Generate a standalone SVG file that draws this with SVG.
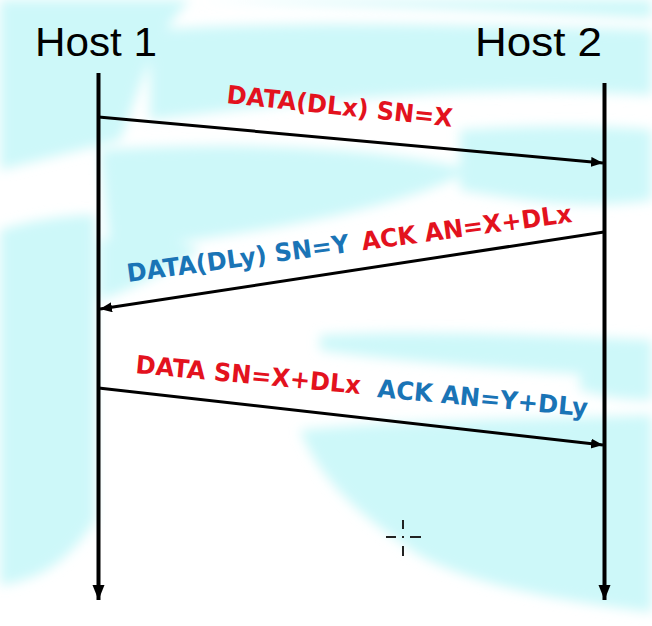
<svg xmlns="http://www.w3.org/2000/svg" width="652" height="626" viewBox="0 0 652 626">
  <defs>
    <style>
      .host { font-family: "Liberation Sans", Arial, sans-serif; font-size: 40px; fill: #000; }
      .lbl { font-family: "DejaVu Sans", Verdana, sans-serif; font-weight: bold; font-size: 25px; }
      .red { fill: #e3121e; }
      .blue { fill: #1a74b6; }
      .life { stroke: #000; stroke-width: 4; fill: none; }
      .msg { stroke: #000; stroke-width: 3; fill: none; }
      .bg { fill: #cdf8f9; }
      .cur { stroke: #222; stroke-width: 2; }
    </style>
    <filter id="soft" x="-10%" y="-10%" width="120%" height="120%">
      <feGaussianBlur stdDeviation="6"/>
    </filter>
    <marker id="ah" markerUnits="userSpaceOnUse" markerWidth="13" markerHeight="11" refX="12" refY="5" orient="auto">
      <path d="M0,0 L12,5 L0,10 Z" fill="#000"/>
    </marker>
    <marker id="ahv" markerUnits="userSpaceOnUse" markerWidth="16" markerHeight="14" refX="15" refY="6" orient="auto">
      <path d="M0,0 L15,6 L0,12 Z" fill="#000"/>
    </marker>
  </defs>

  <!-- background -->
  <rect width="652" height="626" fill="#ffffff"/>
  <g id="background" filter="url(#soft)">
    <path class="bg" d="M0,0 H190 C150,40 140,90 120,140 C80,150 40,160 0,170 Z"/>
    <path class="bg" d="M150,30 C300,20 480,25 652,30 V95 C500,85 350,95 150,120 Z"/>
    <path class="bg" d="M0,230 C30,220 70,215 95,215 V520 C70,560 40,580 0,585 Z"/>
    <path class="bg" d="M100,150 C250,140 400,150 470,170 C420,200 300,230 110,250 Z"/>
    <path class="bg" d="M460,130 C540,125 600,125 652,130 V200 C580,210 520,200 460,190 Z"/>
    <path class="bg" d="M100,240 C140,235 180,240 200,250 C170,270 130,290 100,300 Z"/>
    <path class="bg" d="M320,335 C420,330 540,335 652,340 V380 C540,370 420,365 320,350 Z"/>
    <path class="bg" d="M580,340 C610,340 640,340 652,345 V400 C620,400 600,395 580,390 Z"/>
    <path class="bg" d="M300,430 C400,420 520,420 652,415 V612 C540,600 440,575 405,545 C360,515 320,480 300,430 Z"/>
    <path class="bg" d="M0,0 H652 V18 C500,10 350,5 200,0 Z"/>
  </g>

  <!-- nodes -->
  <g id="host1">
    <text class="host" x="35" y="56" textLength="122" lengthAdjust="spacingAndGlyphs">Host 1</text>
  </g>
  <g id="host2">
    <text class="host" x="475" y="56" textLength="127" lengthAdjust="spacingAndGlyphs">Host 2</text>
  </g>

  <!-- connectors -->
  <g id="connectors">
    <line class="life" x1="98.5" y1="73" x2="98.5" y2="600" marker-end="url(#ahv)"/>
    <line class="life" x1="604.5" y1="83" x2="604.5" y2="600" marker-end="url(#ahv)"/>
    <line class="msg" x1="98.5" y1="117" x2="603" y2="163" marker-end="url(#ah)"/>
    <line class="msg" x1="604" y1="232" x2="100" y2="309" marker-end="url(#ah)"/>
    <line class="msg" x1="98.5" y1="388" x2="603" y2="445" marker-end="url(#ah)"/>
  </g>

  <!-- labels -->
  <g id="label1" transform="translate(226,103) rotate(6)">
    <text class="lbl red" x="0" y="0" textLength="227" lengthAdjust="spacingAndGlyphs">DATA(DLx) SN=X</text>
  </g>
  <g id="label2" transform="translate(128,282) rotate(-7.7)">
    <text class="lbl blue" x="0" y="0" textLength="224" lengthAdjust="spacingAndGlyphs">DATA(DLy) SN=Y</text>
    <text class="lbl red" x="237" y="0" textLength="212" lengthAdjust="spacingAndGlyphs">ACK AN=X+DLx</text>
  </g>
  <g id="label3" transform="translate(135,373) rotate(5.3)">
    <text class="lbl red" x="0" y="0" textLength="226" lengthAdjust="spacingAndGlyphs">DATA SN=X+DLx</text>
    <text class="lbl blue" x="243" y="1.5" textLength="211" lengthAdjust="spacingAndGlyphs">ACK AN=Y+DLy</text>
  </g>

  <!-- cursor crosshair -->
  <g id="cursor">
    <line class="cur" x1="386" y1="537" x2="396" y2="537"/>
    <line class="cur" x1="410" y1="537" x2="421" y2="537"/>
    <line class="cur" x1="403" y1="520" x2="403" y2="529"/>
    <line class="cur" x1="403" y1="546" x2="403" y2="556"/>
    <rect x="402" y="536" width="2" height="2" fill="#222"/>
  </g>
</svg>
